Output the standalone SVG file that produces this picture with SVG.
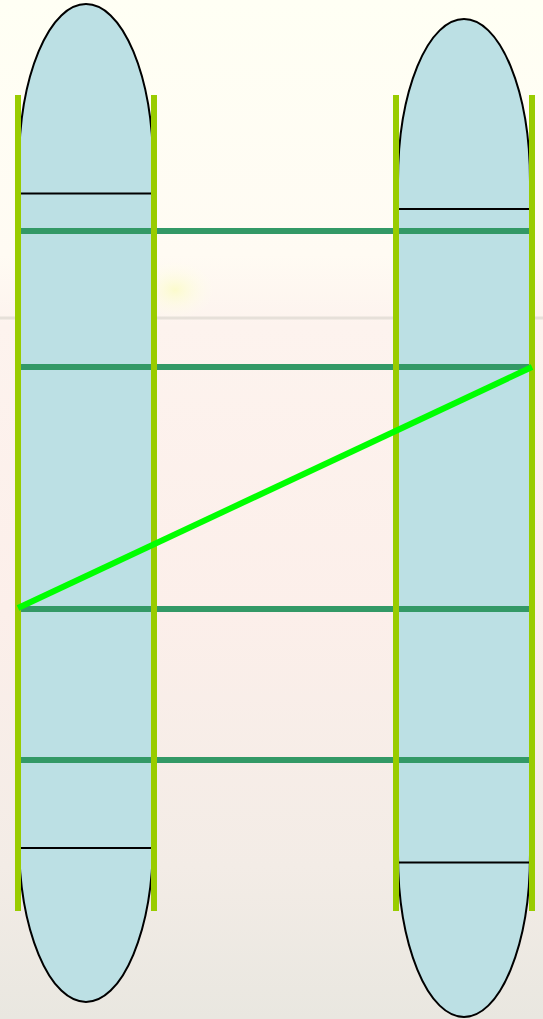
<svg xmlns="http://www.w3.org/2000/svg" width="543" height="1019" viewBox="0 0 543 1019">
<defs>
<linearGradient id="bg" x1="0" y1="0" x2="0" y2="1">
<stop offset="0" stop-color="#fffff4"/>
<stop offset="0.25" stop-color="#fffbf3"/>
<stop offset="0.32" stop-color="#fdf3ee"/>
<stop offset="0.6" stop-color="#fcefea"/>
<stop offset="0.85" stop-color="#f3ece6"/>
<stop offset="1" stop-color="#e9e7e0"/>
</linearGradient>
<radialGradient id="glow" cx="0.5" cy="0.5" r="0.5">
<stop offset="0" stop-color="#fbfbc8" stop-opacity="0.9"/>
<stop offset="1" stop-color="#fffff0" stop-opacity="0"/>
</radialGradient>
</defs>
<style>
.pod{fill:#bce0e4;stroke:#000;stroke-width:2}
.div{stroke:#000;stroke-width:2}
.rung{stroke:#339966;stroke-width:6}
.rail{stroke:#99cc00;stroke-width:6}
.diag{stroke:#00ff00;stroke-width:6}
</style>
<rect width="543" height="1019" fill="url(#bg)"/>
<ellipse cx="175" cy="290" rx="40" ry="30" fill="url(#glow)"/>
<line x1="0" y1="318" x2="543" y2="318" stroke="#d8d4cc" stroke-width="3" opacity="0.6"/>
<g id="left-pod">
<path class="pod" d="M19,166 A67,162 0 0 1 153,166 L153,840 A67,162 0 0 1 19,840 Z"/>
<line class="div" x1="20" y1="193.5" x2="152" y2="193.5"/>
<line class="div" x1="20" y1="848" x2="152" y2="848"/>
</g>
<g id="right-pod">
<path class="pod" d="M398,181 A66,162 0 0 1 530,181 L530,855 A66,162 0 0 1 398,855 Z"/>
<line class="div" x1="398" y1="209" x2="530" y2="209"/>
<line class="div" x1="398" y1="862.5" x2="530" y2="862.5"/>
</g>
<g id="connectors">
<line class="rung" x1="18" y1="231" x2="532" y2="231"/>
<line class="rung" x1="18" y1="367" x2="532" y2="367"/>
<line class="rung" x1="18" y1="609" x2="532" y2="609"/>
<line class="rung" x1="18" y1="760" x2="532" y2="760"/>
<line class="rail" x1="18" y1="95" x2="18" y2="911"/>
<line class="rail" x1="154" y1="95" x2="154" y2="911"/>
<line class="rail" x1="396" y1="95" x2="396" y2="911"/>
<line class="rail" x1="532" y1="95" x2="532" y2="911"/>
<line class="diag" x1="18" y1="608" x2="532" y2="367"/>
</g>
</svg>
